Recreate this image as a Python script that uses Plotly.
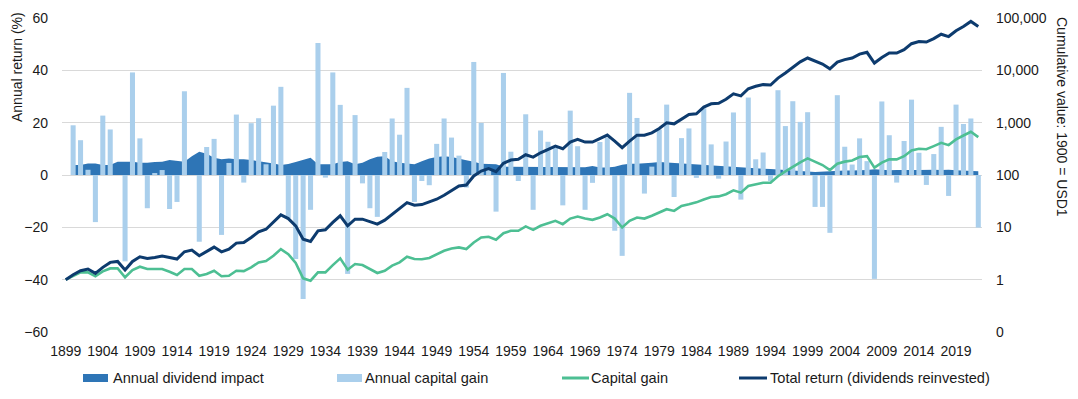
import plotly.graph_objects as go

years = list(range(1899, 2023))

capital_gain_pct = [
    None, 19.0, 13.3, 2.0, -18.0, 22.7, 17.4, 0.0, -33.0, 39.2, 14.0,
    -12.7, 0.5, 1.9, -13.0, -10.3, 32.0, 0.0, -25.5, 10.7, 13.8,
    -22.9, 4.6, 23.1, -2.9, 19.8, 21.7, 4.1, 26.5, 33.7, -16.5,
    -32.1, -47.4, -13.3, 50.4, -1.0, 39.2, 26.8, -37.8, 22.9, -3.2,
    -12.7, -16.0, 8.8, 21.6, 15.4, 33.3, -10.3, -2.3, -3.9, 11.9,
    21.6, 14.3, 7.4, -4.8, 43.2, 19.9, 2.6, -14.0, 39.0, 8.9,
    -2.3, 23.2, -13.3, 17.0, 12.7, 10.4, -11.6, 24.6, 11.0, -13.3,
    -3.0, 12.6, 14.3, -21.3, -30.9, 31.4, 21.8, -7.1, 3.2, 17.4,
    26.9, -8.4, 14.1, 17.8, -1.1, 25.5, 11.7, -1.4, 12.8, 23.9,
    -9.4, 29.6, 6.0, 8.6, -2.3, 32.4, 18.7, 28.2, 20.3, 24.0,
    -12.2, -12.2, -22.1, 30.5, 10.8, 4.0, 14.0, 5.3, -39.7, 28.1,
    15.2, -2.9, 13.0, 28.8, 8.5, -3.8, 8.0, 18.4, -8.0, 26.9,
    19.5, 21.6, -20.1,
]

dividend_impact_pct = [
    None, 3.8, 3.8, 4.4, 4.4, 3.8, 3.8, 5.1, 5.1, 5.1, 4.7,
    4.7, 5.0, 5.1, 5.7, 5.3, 5.1, 7.2, 8.9, 8.1, 6.6,
    6.0, 6.3, 6.0, 6.0, 5.7, 5.3, 4.7, 4.4, 3.8, 4.2,
    5.0, 5.9, 6.6, 4.1, 4.1, 4.1, 5.0, 5.3, 4.1, 4.7,
    6.0, 7.0, 7.2, 5.3, 4.7, 4.4, 4.1, 5.3, 6.3, 6.9,
    7.2, 6.9, 6.2, 5.6, 5.1, 4.3, 4.2, 4.1, 3.2, 3.2,
    3.2, 3.2, 3.2, 3.0, 3.0, 3.0, 3.0, 3.0, 3.0, 3.0,
    3.4, 2.9, 2.9, 3.2, 3.9, 4.3, 4.3, 4.4, 4.7, 5.0,
    4.8, 4.7, 4.4, 4.3, 4.1, 3.9, 3.7, 3.4, 3.4, 3.2,
    3.0, 2.8, 2.5, 2.4, 2.3, 2.2, 1.9, 1.7, 1.4, 1.3,
    1.1, 1.3, 1.5, 1.7, 1.7, 1.7, 1.7, 1.9, 2.2, 2.0,
    1.8, 1.9, 2.0, 1.9, 1.9, 2.0, 2.0, 1.9, 2.0, 1.8,
    1.7, 1.4, 1.4,
]

total_return_index = [
    1, 1.245, 1.48, 1.60, 1.32, 1.72, 2.14, 2.23, 1.53, 2.23, 2.74,
    2.55, 2.66, 2.82, 2.66, 2.48, 3.41, 3.67, 2.86, 3.47, 4.19,
    3.41, 3.84, 5.0, 5.14, 6.4, 8.2, 9.2, 12.4, 17.3, 14.7,
    10.7, 5.95, 5.37, 8.58, 8.96, 12.4, 16.6, 10.7, 14.3, 14.3,
    12.9, 11.5, 13.7, 17.8, 22.2, 29.7, 26.4, 27.2, 30.6, 34.4,
    41.0, 51, 61.7, 64.5, 95.7, 119, 132, 116, 167, 193,
    199, 244, 220, 266, 308, 357, 317, 425, 478, 425,
    425, 492, 578, 444, 332, 444, 578, 578, 640, 774,
    993, 950, 1183, 1432, 1475, 1990, 2290, 2340, 2800, 3550,
    3250, 4450, 4950, 5330, 5250, 7100, 8900, 11600, 14500, 17200,
    15300, 13200, 10700, 14400, 16000, 17200, 20400, 22100, 13800, 17600,
    21400, 21400, 24800, 32300, 35600, 34700, 40300, 49000, 44200, 56900,
    69000, 86000, 69000,
]

capital_gain_index = [
    1, 1.19, 1.38, 1.38, 1.16, 1.44, 1.64, 1.64, 1.11, 1.53, 1.77,
    1.60, 1.60, 1.60, 1.42, 1.23, 1.60, 1.60, 1.19, 1.28, 1.48,
    1.16, 1.19, 1.48, 1.46, 1.72, 2.14, 2.27, 2.86, 3.84, 3.08,
    2.08, 1.06, 0.957, 1.38, 1.38, 1.90, 2.55, 1.55, 1.99, 1.90,
    1.60, 1.34, 1.48, 1.85, 2.14, 2.74, 2.48, 2.45, 2.6, 3.08,
    3.57, 3.95, 4.13, 3.84, 5.14, 6.4, 6.6, 5.78, 7.74, 8.58,
    8.58, 10.4, 8.96, 10.7, 12.0, 13.3, 11.5, 14.7, 16.1, 14.7,
    13.9, 15.4, 17.8, 14.7, 9.93, 13.3, 15.4, 14.7, 16.6, 19.2,
    22.2, 20.6, 25.7, 27.6, 30, 34, 38, 39, 43, 51,
    46, 61.7, 66, 71, 71, 95, 117, 145, 175, 208,
    180, 155, 124, 164, 180, 190, 220, 229, 138, 172,
    199, 199, 229, 295, 317, 310, 356, 412, 372, 478,
    569, 669, 530,
]

x_tick_years = list(range(1899, 2023, 5))
right_tick_vals = [0.1, 1, 10, 100, 1000, 10000, 100000]
right_tick_text = ["0", "1", "10", "100", "1,000", "10,000", "100,000"]

DARK = "#2E75B6"
LIGHT = "#AACFEC"
GREEN = "#4DBF93"
NAVY = "#0D3B6E"
FONT = "Liberation Sans, Arial, sans-serif"
TXT = "#1a1a1a"
FS = 14
FS_LEG = 14.6

fig = go.Figure()

fig.add_trace(go.Scatter(
    x=years, y=dividend_impact_pct, mode="lines", line=dict(width=0, color=DARK),
    fill="tozeroy", fillcolor=DARK, name="Annual dividend impact",
    showlegend=False, xaxis="x", yaxis="y",
))
fig.add_trace(go.Bar(
    x=years, y=capital_gain_pct, marker=dict(color=LIGHT, line=dict(width=0)),
    width=0.68, name="Annual capital gain", showlegend=False,
    xaxis="x", yaxis="y2",
))
fig.add_trace(go.Scatter(
    x=years, y=capital_gain_index, mode="lines", line=dict(color=GREEN, width=2.6),
    name="Capital gain", showlegend=False, xaxis="x", yaxis="y3",
))
fig.add_trace(go.Scatter(
    x=years, y=total_return_index, mode="lines", line=dict(color=NAVY, width=3),
    name="Total return (dividends reinvested)", showlegend=False,
    xaxis="x", yaxis="y3",
))

W, H = 1078, 399
L, R, T, B = 62, 982, 18, 332
pw, ph = R - L, B - T


def px(xp):
    return (xp - L) / pw


def py(yp):
    return (B - yp) / ph


shapes = []
annotations = []

# legend
leg_y = 378
shapes.append(dict(type="rect", xref="paper", yref="paper",
                   x0=px(83), x1=px(108), y0=py(382), y1=py(374),
                   fillcolor=DARK, line=dict(width=0)))
shapes.append(dict(type="rect", xref="paper", yref="paper",
                   x0=px(337), x1=px(362), y0=py(382), y1=py(374),
                   fillcolor=LIGHT, line=dict(width=0)))
shapes.append(dict(type="line", xref="paper", yref="paper",
                   x0=px(562), x1=px(589), y0=py(leg_y), y1=py(leg_y),
                   line=dict(color=GREEN, width=3)))
shapes.append(dict(type="line", xref="paper", yref="paper",
                   x0=px(739), x1=px(767), y0=py(leg_y), y1=py(leg_y),
                   line=dict(color=NAVY, width=3)))
for xp, label in [(111, "Annual dividend impact"), (363, "Annual capital gain"),
                  (589, "Capital gain"), (768, "Total return (dividends reinvested)")]:
    annotations.append(dict(xref="paper", yref="paper", x=px(xp), y=py(leg_y),
                            text=label, showarrow=False, xanchor="left",
                            yanchor="middle", font=dict(size=FS_LEG, color=TXT, family=FONT)))

# axis titles
annotations.append(dict(xref="paper", yref="paper", x=px(17), y=py(67),
                        text="Annual return (%)", textangle=-90, showarrow=False,
                        xanchor="center", yanchor="middle",
                        font=dict(size=FS, color=TXT, family=FONT)))
annotations.append(dict(xref="paper", yref="paper", x=px(1062), y=py(117),
                        text="Cumulative value: 1900 = USD1", textangle=90, showarrow=False,
                        xanchor="center", yanchor="middle",
                        font=dict(size=FS, color=TXT, family=FONT)))

fig.update_layout(
    width=W, height=H,
    margin=dict(l=L, r=W - R, t=T, b=H - B, pad=0, autoexpand=False),
    paper_bgcolor="white", plot_bgcolor="white",
    font=dict(family=FONT, size=FS, color=TXT),
    showlegend=False,
    bargap=0.32,
    xaxis=dict(range=[1898.5, 2022.5], tickmode="array", tickvals=x_tick_years,
               ticktext=[str(v) for v in x_tick_years], showgrid=False,
               zeroline=False, showline=False, ticks="", ticklabelstandoff=9,
               automargin=False, tickfont=dict(size=FS, color=TXT)),
    yaxis=dict(range=[-60, 60], dtick=20, tick0=0, showgrid=True, gridcolor="#D9D9D9",
               gridwidth=1, zeroline=False, showline=False, ticks="",
               automargin=False, ticklabelstandoff=13, tickfont=dict(size=FS, color=TXT)),
    yaxis2=dict(range=[-60, 60], overlaying="y", visible=False, showgrid=False,
                automargin=False),
    yaxis3=dict(type="log", range=[-1, 5], overlaying="y", side="right",
                tickmode="array", tickvals=right_tick_vals, ticktext=right_tick_text,
                showgrid=False, zeroline=False, showline=False, ticks="",
                automargin=False, ticklabelstandoff=13, tickfont=dict(size=FS, color=TXT)),
    shapes=shapes,
    annotations=annotations,
)

fig.write_html(
    "out.html",
    config={"displayModeBar": False},
    post_script="document.body.style.margin='0';document.body.style.padding='0';"
                "document.body.style.overflow='hidden';",
)
